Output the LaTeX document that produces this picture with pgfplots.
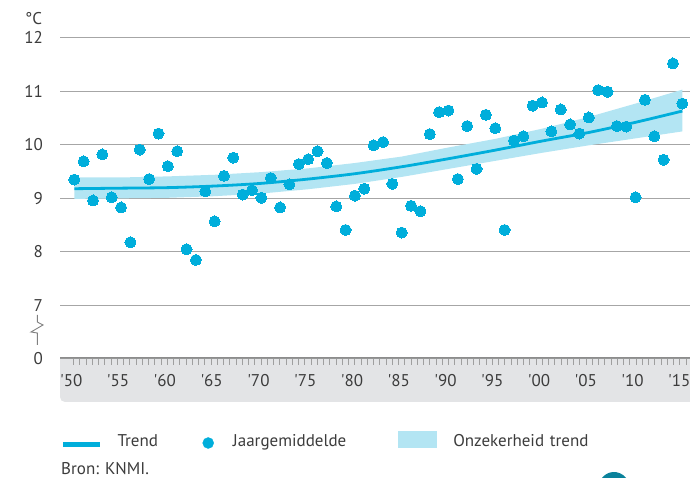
\documentclass[border=0pt]{standalone}
\usepackage{fontspec}
\setmainfont{PT Sans}
\usepackage{pgfplots}
\usepackage{pgfplotstable}
\pgfplotsset{compat=1.18}
\usepgfplotslibrary{fillbetween}

\definecolor{dotc}{RGB}{0,174,219}
\definecolor{bandc}{RGB}{179,229,243}
\definecolor{gridc}{RGB}{166,166,166}
\definecolor{axc}{RGB}{140,140,140}
\definecolor{boxc}{RGB}{227,228,230}
\definecolor{txt}{RGB}{60,60,60}
\definecolor{logoc}{RGB}{10,130,155}
\newcommand\ff{\fontsize{17bp}{20bp}\selectfont}

\pgfplotstableread{
year temp
1950 9.35
1951 9.69
1952 8.96
1953 9.82
1954 9.02
1955 8.83
1956 8.18
1957 9.91
1958 9.36
1959 10.21
1960 9.60
1961 9.88
1962 8.05
1963 7.85
1964 9.13
1965 8.57
1966 9.42
1967 9.76
1968 9.07
1969 9.15
1970 9.01
1971 9.38
1972 8.83
1973 9.26
1974 9.64
1975 9.73
1976 9.88
1977 9.66
1978 8.85
1979 8.41
1980 9.05
1981 9.18
1982 9.99
1983 10.05
1984 9.27
1985 8.36
1986 8.86
1987 8.76
1988 10.20
1989 10.61
1990 10.64
1991 9.36
1992 10.35
1993 9.55
1994 10.56
1995 10.31
1996 8.41
1997 10.08
1998 10.16
1999 10.73
2000 10.79
2001 10.25
2002 10.66
2003 10.38
2004 10.21
2005 10.51
2006 11.02
2007 10.99
2008 10.35
2009 10.34
2010 9.02
2011 10.84
2012 10.16
2013 9.72
2014 11.52
2015 10.77
}\jaar

\pgfplotstableread{
year trend up lo
1950 9.18 9.39 8.99
1955 9.19 9.39 9.00
1960 9.20 9.41 9.01
1965 9.23 9.44 9.04
1970 9.28 9.49 9.09
1975 9.36 9.56 9.17
1980 9.46 9.66 9.27
1985 9.59 9.78 9.40
1990 9.74 9.95 9.55
1995 9.90 10.11 9.70
2000 10.07 10.30 9.85
2005 10.23 10.52 9.99
2010 10.42 10.77 10.12
2015 10.63 11.03 10.25
}\trend

\begin{document}
\begin{tikzpicture}[x=1bp,y=1bp]
% grey band under the x axis
\fill[boxc] (60,119) [rounded corners=5bp] -- (60,76) -- (740,76) [sharp corners] -- (740,119) -- cycle;
\foreach \i in {0,...,99} \draw[gray!75, line width=0.8bp] ({73.5+6.25*\i},119) -- ++(0,-6);
% axis break symbol
\draw[gray, line width=0.9bp] (37.3,163) -- (37.3,156) -- (43,153) -- (31,146) -- (37.3,145) -- (37.3,133);
% unit
\node[anchor=base west, inner sep=0pt, font=\ff, text=txt] at (25,453) {°C};
\node[anchor=base west, inner sep=0pt, font=\ff, text=txt] at (61,3.7) {Bron: KNMI.};
\fill[logoc] (626,0) arc[start angle=36.87, end angle=143.13, radius=15] -- cycle;

\begin{axis}[
  at={(60bp,119bp)}, anchor=south west,
  scale only axis, width=630bp, height=321.3bp,
  xmin=1948.47, xmax=2015.82, ymin=0, ymax=6,
  clip=false,
  axis x line*=bottom, axis y line*=left,
  y axis line style={draw=none},
  x axis line style={line width=3.4bp, color=axc},
  major tick length=0pt, minor tick length=0pt,
  xtick style={draw=none}, ytick style={draw=none},
  xtick={1950,1955,...,2015},
  xticklabels={\textquotesingle 50,\textquotesingle 55,\textquotesingle 60,\textquotesingle 65,\textquotesingle 70,\textquotesingle 75,\textquotesingle 80,\textquotesingle 85,\textquotesingle 90,\textquotesingle 95,\textquotesingle 00,\textquotesingle 05,\textquotesingle 10,\textquotesingle 15},
  xticklabel style={anchor=base, inner sep=0pt, yshift=-27.7bp, xshift=-3bp, font=\ff, text=txt},
  ytick={0,1,2,3,4,5,6},
  yticklabels={0,7,8,9,10,11,12},
  yticklabel style={anchor=east, inner sep=0pt, xshift=-17bp, font=\ff, text=txt},
  ymajorgrids, grid style={gridc, line width=1.2bp},
  legend cell align=left,
  legend style={at={(0.0016,-0.2521)}, anchor=west, draw=none, fill=none,
    inner sep=0pt, outer sep=0pt, column sep=0pt,
    nodes={inner sep=0pt, font=\ff, text=txt, text height=12bp, text depth=0bp}},
  legend columns=3,
]
\addplot[name path=up, draw=none, forget plot] table[x=year, y expr=\thisrow{up}-6] {\trend};
\addplot[name path=lo, draw=none, forget plot] table[x=year, y expr=\thisrow{lo}-6] {\trend};
\addplot[bandc, forget plot] fill between[of=up and lo];
\addplot[dotc, line width=2.8bp, smooth, forget plot] table[x=year, y expr=\thisrow{trend}-6] {\trend};
\addplot[only marks, color=dotc, mark=*, mark size=5.5bp, mark options={draw=dotc, fill=dotc, line width=0pt}, forget plot] table[x=year, y expr=\thisrow{temp}-6] {\jaar};

\addlegendimage{legend image code/.code={\draw[dotc, line width=4.5bp] (0bp,-3.5bp) -- (37bp,-3.5bp);}}
\addlegendentry[text width=100bp]{\hspace*{15bp}Trend}
\addlegendimage{legend image code/.code={\fill[dotc] (5.5bp,-2bp) circle (5.5bp);}}
\addlegendentry[text width=184bp]{\hspace*{19bp}Jaargemiddelde}
\addlegendimage{legend image code/.code={\fill[bandc] (0bp,-6.5bp) rectangle (38bp,9.5bp);}}
\addlegendentry[text width=170bp]{\hspace*{17bp}Onzekerheid trend}
\end{axis}
\pgfresetboundingbox
\path[use as bounding box] (0,0) rectangle (690,478);
\end{tikzpicture}
\end{document}
